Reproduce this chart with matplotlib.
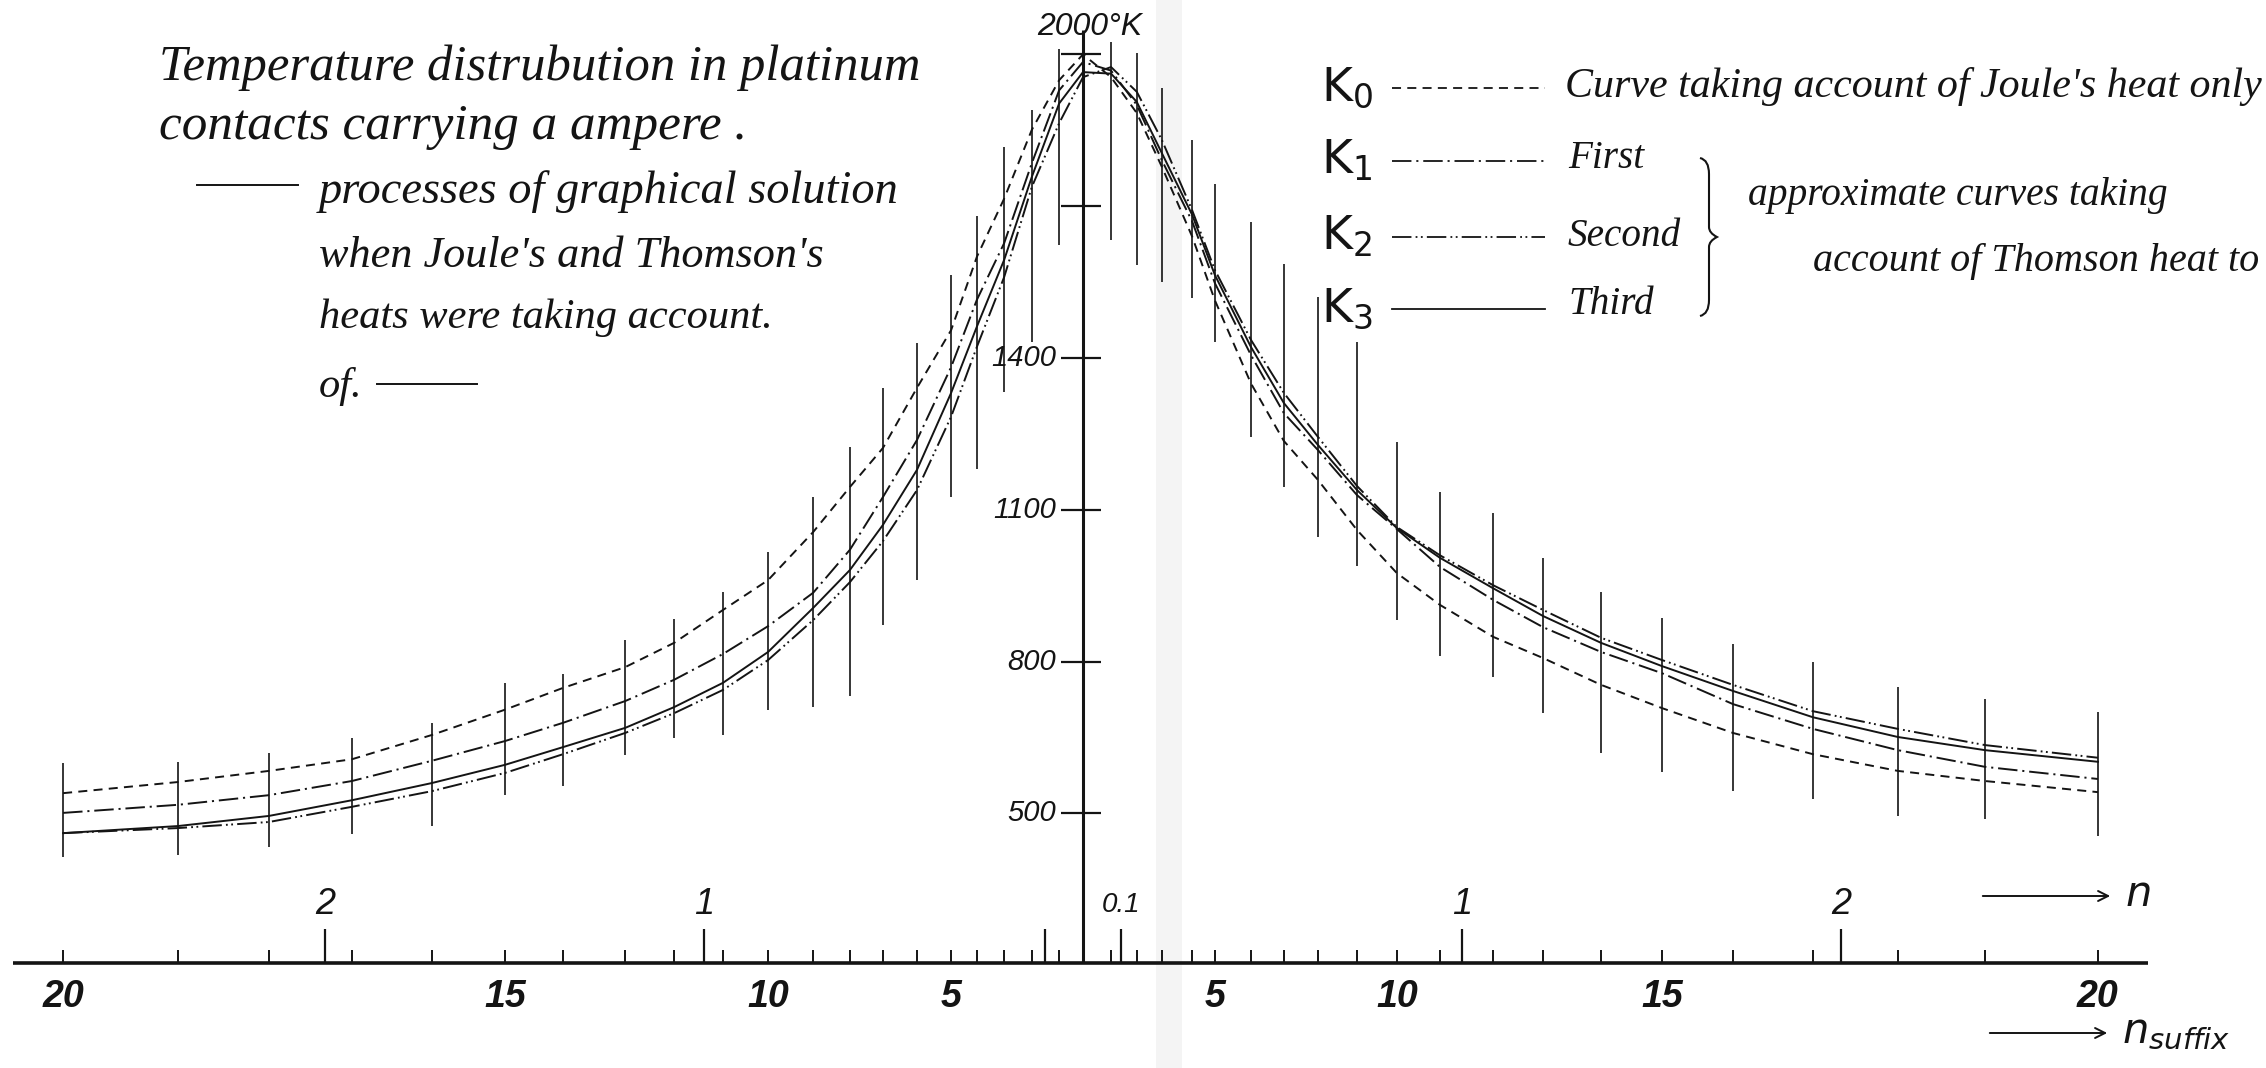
import numpy as np
import matplotlib
matplotlib.use("Agg")
import matplotlib.pyplot as plt
from matplotlib.lines import Line2D
from matplotlib.patches import PathPatch
from matplotlib.path import Path

plt.rcParams["lines.scale_dashes"] = False

W, H = 2266, 1068
INK = "#141414"

# ── data ─────────────────────────────────────────────────────────────────────
# division points on the n scale: left side (suffix 20 -> 1), right side (suffix 1 -> 20)
n_left = [-2.691, -2.388, -2.148, -1.929, -1.718, -1.525, -1.372, -1.208, -1.079, -0.950,
          -0.831, -0.712, -0.615, -0.528, -0.438, -0.348, -0.280, -0.208, -0.135, -0.063]
n_right = [0.074, 0.142, 0.208, 0.288, 0.348, 0.443, 0.530, 0.620, 0.723, 0.828,
           0.942, 1.082, 1.214, 1.367, 1.528, 1.715, 1.926, 2.150, 2.380, 2.678]
suffix_left = list(range(20, 0, -1))
suffix_right = list(range(1, 21))
n_centre = [0.0]

# temperature (deg K) at each division point: left 20..1, centre, right 1..20
K0 = [540, 562, 584, 607, 655, 705, 748, 789, 837, 902, 961, 1056, 1145, 1222, 1341, 1455, 1600, 1715, 1851, 1949,
      2000,
      1955, 1884, 1778, 1640, 1514, 1350, 1236, 1159, 1060, 975, 912, 849, 807, 754, 708, 659, 617, 584, 564, 542]
K1 = [501, 517, 536, 564, 604, 643, 679, 722, 764, 815, 870, 936, 1021, 1125, 1238, 1382, 1515, 1627, 1785, 1929,
      1985,
      1968, 1900, 1791, 1670, 1548, 1406, 1291, 1218, 1129, 1062, 987, 922, 868, 819, 777, 716, 667, 625, 592, 568]
K2 = [461, 471, 483, 513, 544, 580, 617, 659, 698, 744, 803, 882, 957, 1038, 1139, 1284, 1422, 1560, 1738, 1864,
      1955,
      1975, 1926, 1831, 1692, 1574, 1436, 1331, 1244, 1147, 1066, 1010, 951, 902, 847, 803, 754, 702, 667, 635, 610]
K3 = [461, 475, 495, 526, 560, 596, 631, 669, 710, 758, 819, 906, 981, 1070, 1179, 1331, 1462, 1594, 1758, 1903,
      1965,
      1962, 1906, 1805, 1683, 1564, 1422, 1311, 1228, 1139, 1064, 1005, 945, 890, 837, 791, 742, 690, 651, 625, 602]

# extent of the vertical construction line at each division point
div_top_left = [600, 602, 619, 649, 679, 758, 775, 843, 884, 938, 1017, 1125, 1224, 1341, 1430, 1564, 1681, 1817, 1890, 2010]
div_bot_left = [414, 418, 434, 459, 475, 536, 554, 615, 649, 655, 704, 710, 732, 872, 961, 1125, 1180, 1333, 1432, 1623]
div_top_right = [2025, 2003, 1934, 1831, 1744, 1669, 1586, 1521, 1432, 1234, 1135, 1094, 1005, 938, 886, 835, 799, 750, 726, 700]
div_bot_right = [1633, 1584, 1550, 1519, 1432, 1244, 1145, 1046, 989, 882, 811, 770, 698, 619, 582, 544, 528, 495, 489, 455]

y_ticks = [500, 800, 1100, 1400, 1700, 2000]
y_tick_labels = ["500", "800", "1100", "1400", "", ""]

n_marks = [-2, -1, -0.1, 0.1, 1, 2]
n_mark_pos = [-2, -1, 0.1, 1, 2]
n_mark_labels = ["2", "1", "0.1", "1", "2"]
suffix_marks = [5, 10, 15, 20]

curve_names = ["K0", "K1", "K2", "K3"]
curve_styles = {
    "K0": (0, (6.5, 4.5)),
    "K1": (0, (14, 3.5, 1.5, 3.5)),
    "K2": (0, (14, 3, 1.3, 2.5, 1.3, 3)),
    "K3": "-",
}
curve_values = {"K0": K0, "K1": K1, "K2": K2, "K3": K3}

# ── pixel helpers (layout only) ──────────────────────────────────────────────
X0, PX_PER_N = 1083.0, 379.0
Y1400, PX_PER_K = 358.0, 0.506


def n_of(px):
    return (px - X0) / PX_PER_N


def T_of(py):
    return 1400 - (py - Y1400) / PX_PER_K


def fx(px):
    return px / W


def fy(py):
    return 1 - py / H


HAND = "Liberation Serif"
PRINT = "Liberation Sans"

fig = plt.figure(figsize=(W / 100, H / 100), dpi=100, facecolor="white")
ax = fig.add_axes([0, 0, 1, 1])
ax.set_xlim(n_of(0), n_of(W))
ax.set_ylim(T_of(H), T_of(0))
ax.axis("off")
renderer = fig.canvas.get_renderer()

# faint scanner stripe
ax.axvspan(n_of(1156), n_of(1182), color="#f4f4f4", lw=0, zorder=0)

# ── axes ─────────────────────────────────────────────────────────────────────
T_base = T_of(963)
ax.plot([n_of(13), n_of(2148)], [T_base, T_base], color=INK, lw=2.6, solid_capstyle="butt")
ax.plot([0, 0], [T_base, T_of(30)], color=INK, lw=2.2, solid_capstyle="butt")
ax.hlines(y_ticks, n_of(1061), n_of(1101), color=INK, lw=1.6)
for t, lab in zip(y_ticks, y_tick_labels):
    if lab:
        ax.text(n_of(1056), t, lab, ha="right", va="center", fontsize=21,
                family=PRINT, style="italic", color=INK)
ax.text(n_of(1090), T_of(27), "2000°K", ha="center", va="center", fontsize=23,
        family=PRINT, style="italic", color=INK)

n_div = n_left + n_right
ax.vlines(n_div, T_base, T_base + 13 / PX_PER_K, color=INK, lw=1.4)
ax.vlines(n_marks, T_base, T_base + 34 / PX_PER_K, color=INK, lw=1.6)
for p, lab in zip(n_mark_pos, n_mark_labels):
    ax.text(p, T_of(905), lab, ha="center", va="center", family=PRINT, style="italic",
            fontsize=20 if lab == "0.1" else 26, color=INK)

for s in suffix_marks:
    for pos, suf in ((n_left, suffix_left), (n_right, suffix_right)):
        ax.text(pos[suf.index(s)], T_of(997), str(s), ha="center", va="center",
                family=PRINT, style="italic", weight="bold", fontsize=27, color=INK)

# ── construction lines and curves ───────────────────────────────────────────
ax.vlines(n_left, div_bot_left, div_top_left, color=INK, lw=1.2)
ax.vlines(n_right, div_bot_right, div_top_right, color=INK, lw=1.2)

n_all = n_left + n_centre + n_right
for name in curve_names:
    ax.plot(n_all, curve_values[name], color=INK, lw=1.4, linestyle=curve_styles[name])

# ── arrows for the two scales ───────────────────────────────────────────────
for (xa, xb, yy), lab in (((1980, 2113, 896), r"$n$"), ((1987, 2110, 1033), r"$n_{suffix}$")):
    ax.annotate("", xy=(fx(xb), fy(yy)), xytext=(fx(xa), fy(yy)),
                xycoords="figure fraction", textcoords="figure fraction",
                arrowprops=dict(arrowstyle="->", lw=1.4, color=INK, mutation_scale=18))
    fig.text(fx(xb + 12), fy(yy - 2), lab, ha="left", va="center", fontsize=30, color=INK)


# ── handwritten notes ───────────────────────────────────────────────────────
def size_for(s, width, family=HAND, style="italic"):
    probe = fig.text(0, 0, s, fontsize=30, family=family, style=style)
    w = probe.get_window_extent(renderer=renderer).width
    probe.remove()
    return 30 * width / w


def note(s, x, yc, size, family=HAND, style="italic"):
    fig.text(fx(x), fy(yc), s, ha="left", va="center", fontsize=size,
             family=family, style=style, color=INK)


note("Temperature distrubution in platinum", 159, 68,
     size_for("Temperature distrubution in platinum", 760))
note("contacts carrying a ampere .", 159, 127, size_for("contacts carrying a ampere .", 588))
s3 = size_for("processes of graphical solution", 581)
note("processes of graphical solution", 319, 192, s3)
note("when Joule's and Thomson's", 319, 256, size_for("when Joule's and Thomson's", 505))
s5 = size_for("heats were taking account.", 454)
note("heats were taking account.", 319, 318, s5)
note("of.", 319, 386, s5)
for xa, xb, yy in ((197, 298, 185), (377, 477, 384)):
    fig.add_artist(Line2D([fx(xa), fx(xb)], [fy(yy), fy(yy)], color=INK, lw=1.4))

# ── legend ───────────────────────────────────────────────────────────────────
legend_rows = [88, 161, 237, 309]
for name, yy in zip(curve_names, legend_rows):
    fig.text(fx(1321), fy(yy), r"$\mathregular{K_%s}$" % name[1], ha="left", va="center",
             fontsize=34, family="DejaVu Sans", color=INK)
    fig.add_artist(Line2D([fx(1392), fx(1545)], [fy(yy), fy(yy)], color=INK, lw=1.3,
                          linestyle=curve_styles[name]))

note("Curve taking account of Joule's heat only", 1565, 86,
     size_for("Curve taking account of Joule's heat only", 698))
s_leg = size_for("Second", 113)
note("First", 1568, 159, s_leg)
note("Second", 1568, 236, s_leg)
note("Third", 1568, 304, s_leg)
note("approximate curves taking", 1748, 196, size_for("approximate curves taking", 420))
note("account of Thomson heat to", 1813, 262, size_for("account of Thomson heat to", 446))

# curly brace grouping First / Second / Third
bx, by0, by1 = 1700, 158, 316
bm = (by0 + by1) / 2
pts = [(bx, by0), (bx + 9, by0 + 2), (bx + 9, by0 + 16),
       (bx + 9, bm - 10), (bx + 9, bm - 4), (bx + 17, bm),
       (bx + 9, bm + 4), (bx + 9, bm + 10),
       (bx + 9, by1 - 16), (bx + 9, by1 - 2), (bx, by1)]
codes = [Path.MOVETO, Path.CURVE3, Path.CURVE3,
         Path.LINETO, Path.CURVE3, Path.CURVE3,
         Path.CURVE3, Path.CURVE3,
         Path.LINETO, Path.CURVE3, Path.CURVE3]
brace = Path([(fx(x), fy(y)) for x, y in pts], codes)
fig.add_artist(PathPatch(brace, transform=fig.transFigure, fill=False, lw=1.5, edgecolor=INK))

fig.savefig("out.png", dpi=100, facecolor="white")
